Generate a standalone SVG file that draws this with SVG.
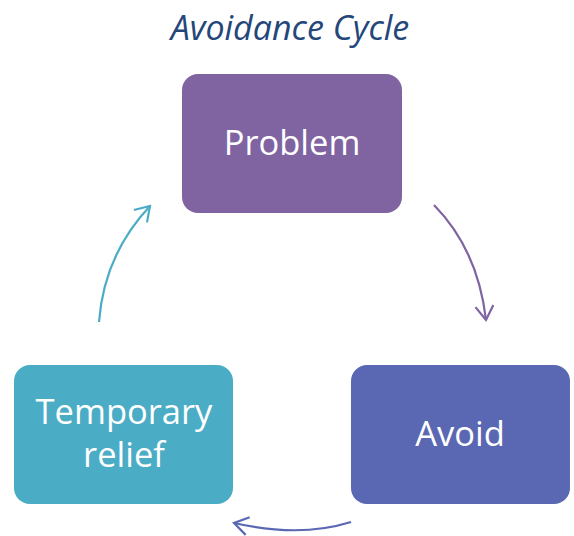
<svg xmlns="http://www.w3.org/2000/svg" width="574" height="536" viewBox="0 0 574 536">
<style>
.node text{font-family:"Open Sans","Liberation Sans",sans-serif;font-size:34.5px;fill:#fff;text-anchor:middle}
.title{font-family:"Open Sans","Liberation Sans",sans-serif;font-style:italic;font-size:34px;fill:#24477A;text-anchor:middle}
.conn path{fill:none;stroke-width:2.2}
</style>
<defs>
<marker id="ap" viewBox="-16 -10 18 20" markerWidth="18" markerHeight="20" refX="0" refY="0" orient="auto" markerUnits="userSpaceOnUse"><path d="M-14,-9 L0,0 L-14,9" fill="none" stroke="#8064A2" stroke-width="2.2"/></marker>
<marker id="ab" viewBox="-16 -10 18 20" markerWidth="18" markerHeight="20" refX="0" refY="0" orient="auto" markerUnits="userSpaceOnUse"><path d="M-14,-9 L0,0 L-14,9" fill="none" stroke="#5A67B3" stroke-width="2.2"/></marker>
<marker id="at" viewBox="-16 -10 18 20" markerWidth="18" markerHeight="20" refX="0" refY="0" orient="auto" markerUnits="userSpaceOnUse"><path d="M-14,-9 L0,0 L-14,9" fill="none" stroke="#4BACC6" stroke-width="2.2"/></marker>
</defs>
<rect width="574" height="536" fill="#fff"/>
<text class="title" x="290" y="40">Avoidance Cycle</text>
<g id="problem" class="node"><rect x="182" y="74" width="220" height="139" rx="16" fill="#8064A2"/><text x="292" y="155">Problem</text></g>
<g id="avoid" class="node"><rect x="351" y="365" width="219" height="139" rx="16" fill="#5A67B3"/><text x="460" y="446">Avoid</text></g>
<g id="relief" class="node"><rect x="14" y="365" width="219" height="139" rx="16" fill="#4BACC6"/><text x="124" y="424">Temporary</text><text x="124" y="467">relief</text></g>
<g id="connectors" class="conn">
<path d="M434,205 Q478,250 486,320" stroke="#8064A2" marker-end="url(#ap)"/>
<path d="M351,522 Q300,538 234,523" stroke="#5A67B3" marker-end="url(#ab)"/>
<path d="M99,322 Q104,255 150,206" stroke="#4BACC6" marker-end="url(#at)"/>
</g>
</svg>
